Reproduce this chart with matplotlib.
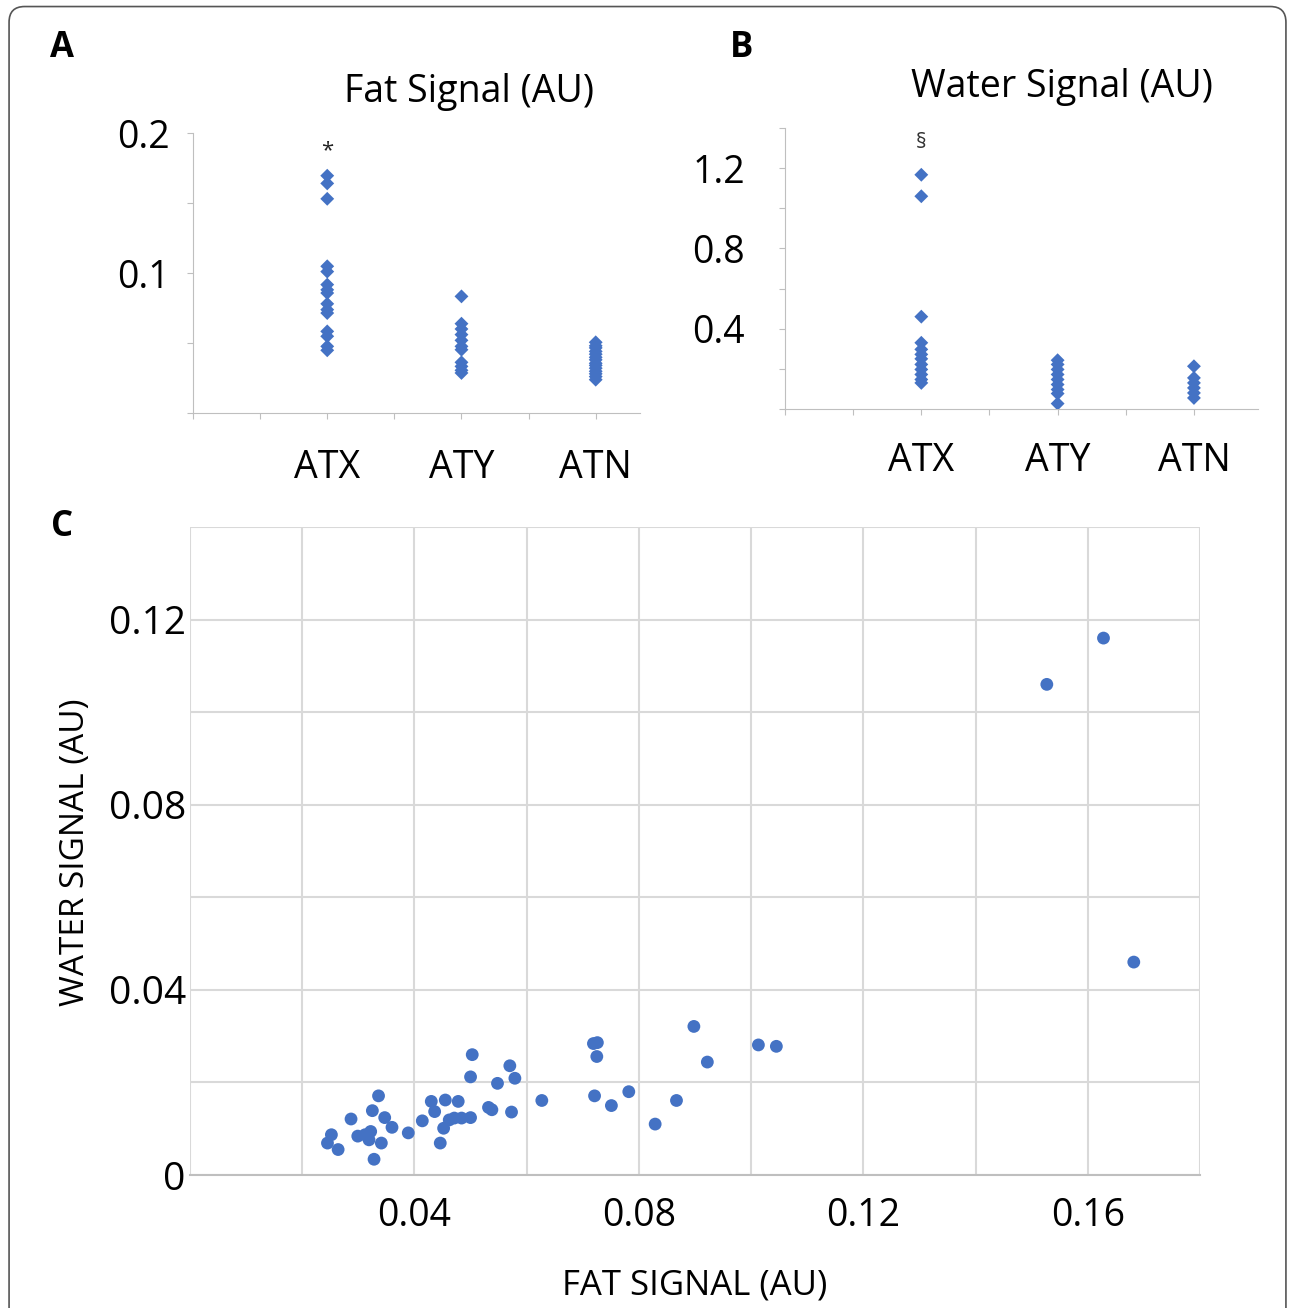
import matplotlib
matplotlib.use("Agg")
import matplotlib.pyplot as plt
from matplotlib.patches import FancyBboxPatch

plt.rcParams['font.family'] = ['Open Sans', 'DejaVu Sans']

blue = '#4472C4'
grid_col = '#d9d9d9'

groups = ['ATX', 'ATY', 'ATN']

# panel A: fat signal per group
fat_atx = [0.1695, 0.164, 0.153, 0.1048, 0.101, 0.0917, 0.088, 0.0857, 0.078,
           0.0738, 0.0714, 0.0583, 0.0548, 0.0476, 0.0448]
fat_aty = [0.0833, 0.0638, 0.060, 0.056, 0.0519, 0.0476, 0.0452, 0.0362,
           0.0333, 0.0305, 0.0286]
fat_atn = [0.0505, 0.048, 0.0465, 0.044, 0.042, 0.0398, 0.038, 0.0355,
           0.034, 0.032, 0.0298, 0.028, 0.026, 0.0238]

# panel B: water signal per group
water_atx = [1.167, 1.06, 0.46, 0.33, 0.297, 0.272, 0.25, 0.222, 0.197,
             0.172, 0.147, 0.13]
water_aty = [0.243, 0.222, 0.197, 0.172, 0.147, 0.122, 0.097, 0.077, 0.027]
water_atn = [0.213, 0.155, 0.13, 0.105, 0.08, 0.055]

# panel C: fat vs water
fat_all = [0.0245, 0.0252, 0.0264, 0.0287, 0.0299, 0.0312, 0.0322, 0.0319,
           0.0325, 0.0336, 0.0328, 0.0341, 0.0347, 0.0360, 0.0389, 0.0414,
           0.0430, 0.0436, 0.0455, 0.0478, 0.0446, 0.0452, 0.0462, 0.0471,
           0.0484, 0.0500, 0.0500, 0.0503, 0.0532, 0.0538, 0.0548, 0.0570,
           0.0579, 0.0573, 0.0627, 0.0719, 0.0726, 0.0725, 0.0721, 0.0751,
           0.0782, 0.0829, 0.0867, 0.0898, 0.0922, 0.1013, 0.1045, 0.1527,
           0.1628, 0.1682]
water_all = [0.0069, 0.0087, 0.0055, 0.0121, 0.0084, 0.0087, 0.0094, 0.0076,
             0.0139, 0.0171, 0.0034, 0.0069, 0.0124, 0.0103, 0.0091, 0.0117,
             0.0159, 0.0137, 0.0162, 0.0159, 0.0069, 0.0101, 0.0119, 0.0123,
             0.0123, 0.0124, 0.0212, 0.0260, 0.0146, 0.0141, 0.0198, 0.0236,
             0.0209, 0.0136, 0.0161, 0.0284, 0.0286, 0.0256, 0.0171, 0.0150,
             0.0180, 0.0110, 0.0161, 0.0321, 0.0244, 0.0281, 0.0278, 0.1060,
             0.1160, 0.0460]

fig = plt.figure(figsize=(12.95, 13.08), dpi=100)

# rounded border around the figure
border = FancyBboxPatch((0.007, -0.02), 0.986, 1.015, boxstyle="round,pad=0,rounding_size=0.012",
                        transform=fig.transFigure, fill=False, edgecolor='#555555', linewidth=1.2)
fig.patches.append(border)


def strip_panel(ax, data, ylim, yticks, ylabels, title, ypad, xpad):
    for i, vals in enumerate(data):
        ax.scatter([i + 1] * len(vals), vals, marker='D', s=50, color=blue,
                   edgecolors='none', zorder=3)
    ax.set_ylim(ylim)
    ax.set_yticks(yticks)
    ax.set_yticklabels(ylabels, fontsize=27)
    ax.set_xticks([0, 0.5, 1, 1.5, 2, 2.5, 3])
    ax.set_xticklabels(['', '', groups[0], '', groups[1], '', groups[2]], fontsize=27)
    ax.tick_params(axis='y', length=4, color='#bfbfbf', pad=ypad)
    ax.tick_params(axis='x', length=4, color='#bfbfbf', pad=xpad)
    for s in ['top', 'right']:
        ax.spines[s].set_visible(False)
    for s in ['left', 'bottom']:
        ax.spines[s].set_color('#bfbfbf')
    ax.set_title(title, fontsize=27, pad=22)


# panel A
axA = fig.add_axes([193 / 1295, 1 - 413 / 1308, (640 - 193) / 1295, (413 - 133) / 1308])
axA.set_xlim(0, 3.33)
strip_panel(axA, [fat_atx, fat_aty, fat_atn], (0, 0.2),
            [0, 0.05, 0.1, 0.15, 0.2], ['', '', '0.1', '', '0.2'], 'Fat Signal (AU)', 13, 22)
axA.title.set_x(0.617)
axA.text(1, 0.187, '*', ha='center', va='center', fontsize=16, color='#222222')

# panel B
axB = fig.add_axes([785 / 1295, 1 - 409 / 1308, (1258 - 785) / 1295, (409 - 128) / 1308])
axB.set_xlim(0, 3.47)
strip_panel(axB, [water_atx, water_aty, water_atn], (0, 1.4),
            [0, 0.2, 0.4, 0.6, 0.8, 1.0, 1.2, 1.4],
            ['', '', '0.4', '', '0.8', '', '1.2', ''], 'Water Signal (AU)', 25, 20)
axB.title.set_x(0.586)
axB.text(1, 1.33, '§', ha='center', va='center', fontsize=15, color='#333333')

# panel C
axC = fig.add_axes([190 / 1295, 1 - 1175 / 1308, (1200 - 190) / 1295, (1175 - 527) / 1308])
axC.scatter(fat_all, water_all, s=85, color=blue, edgecolors='none', zorder=3)
axC.set_xlim(0, 0.18)
axC.set_ylim(0, 0.14)
xt = [0, 0.02, 0.04, 0.06, 0.08, 0.10, 0.12, 0.14, 0.16, 0.18]
yt = [0, 0.02, 0.04, 0.06, 0.08, 0.10, 0.12, 0.14]
axC.set_xticks(xt)
axC.set_xticklabels(['', '', '0.04', '', '0.08', '', '0.12', '', '0.16', ''], fontsize=27)
axC.set_yticks(yt)
axC.set_yticklabels(['0', '', '0.04', '', '0.08', '', '0.12', ''], fontsize=28)
axC.tick_params(axis='x', length=0, pad=16)
axC.tick_params(axis='y', length=0, pad=3)
axC.grid(True, color=grid_col, linewidth=1.5)
axC.set_axisbelow(True)
for s in ['top', 'right', 'left']:
    axC.spines[s].set_visible(False)
axC.spines['bottom'].set_color('#bfbfbf')
axC.spines['bottom'].set_linewidth(1.5)
axC.set_xlabel('FAT SIGNAL (AU)', fontsize=25, labelpad=24)
fig.text(76 / 1295, 1 - 852 / 1308, 'WATER SIGNAL (AU)', fontsize=24, rotation=90,
         ha='center', va='center')

# panel letters
fig.text(62 / 1295, 1 - 48 / 1308, 'A', fontsize=25, fontweight='bold', ha='center', va='center')
fig.text(742 / 1295, 1 - 48 / 1308, 'B', fontsize=25, fontweight='bold', ha='center', va='center')
fig.text(62 / 1295, 1 - 527 / 1308, 'C', fontsize=25, fontweight='bold', ha='center', va='center')

fig.savefig('out.png', dpi=100)
